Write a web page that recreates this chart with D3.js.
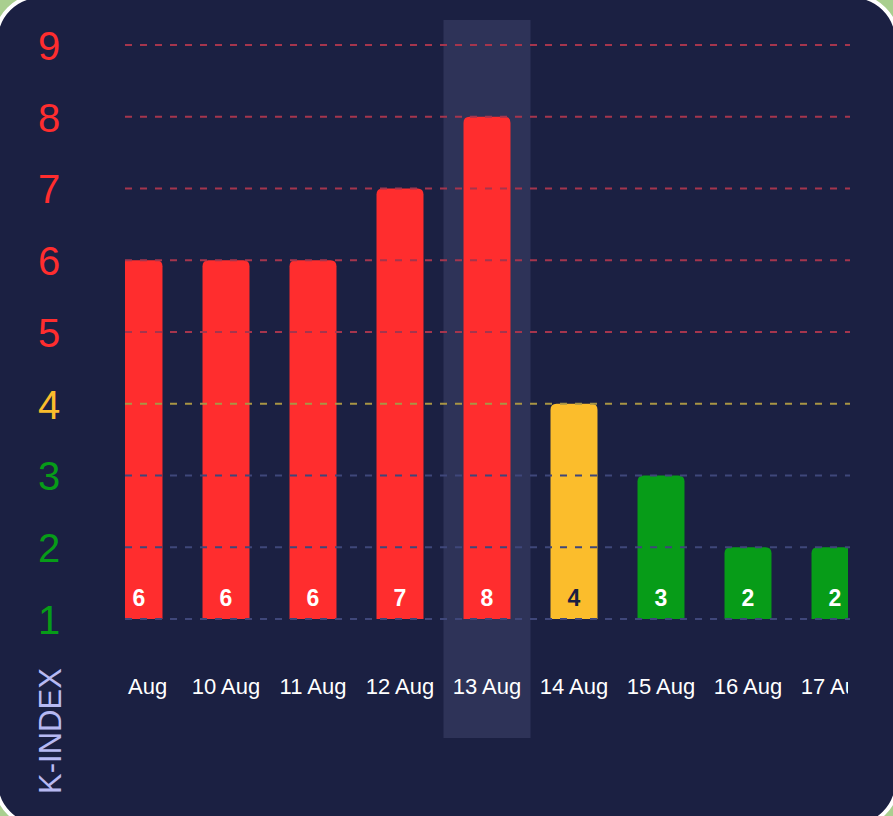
<html>
<head>
<style>
  body { margin: 0; background: #a9cf8f; overflow: hidden; }
  svg { display: block; }
</style>
</head>
<body>
<svg id="chart" width="893" height="816"></svg>
<script src="https://d3js.org/d3.v7.min.js"></script>
<script>
  // data
  let days = ["9 Aug", "10 Aug", "11 Aug", "12 Aug", "13 Aug", "14 Aug", "15 Aug", "16 Aug", "17 Aug"]
  let kValues = [6, 6, 6, 7, 8, 4, 3, 2, 2]
  let yTicks = [1, 2, 3, 4, 5, 6, 7, 8, 9]
  let selectedDay = "13 Aug"

  let svg = d3.select("#chart")

  // colour by storm level
  function levelColor(k) {
    if (k >= 5) return "#ff2d2e"
    if (k == 4) return "#fbbd2c"
    return "#079c18"
  }
  function gridColor(k) {
    if (k >= 5) return "#a5354d"
    if (k == 4) return "#a99544"
    return "#3f477a"
  }

  // card background with rounded corners
  svg.append("rect")
    .attr("x", -4).attr("y", -4)
    .attr("width", 901).attr("height", 830)
    .attr("rx", 44)
    .attr("fill", "#1b2042")
    .attr("stroke", "#ffffff")
    .attr("stroke-width", 4)

  let x = d3.scaleBand()
    .domain(days)
    .range([95.5, 878.5])
    .paddingInner(0.46)
    .paddingOuter(0.23)

  let y = d3.scaleLinear()
    .domain([1, 9])
    .range([619, 45])

  let step = x.step()

  // clip so the first and last days are cut like the scrolled view
  svg.append("clipPath").attr("id", "plotclip")
    .append("rect")
    .attr("x", 125).attr("y", 0)
    .attr("width", 723).attr("height", 816)

  let plot = svg.append("g").attr("clip-path", "url(#plotclip)")

  // highlight band for the selected day
  plot.append("rect")
    .attr("x", x(selectedDay) + x.bandwidth() / 2 - step / 2)
    .attr("y", 20)
    .attr("width", step)
    .attr("height", 718)
    .attr("fill", "#2e3358")

  // dashed gridlines
  svg.append("g").selectAll("line")
    .data(yTicks)
    .join("line")
    .attr("x1", 125)
    .attr("x2", 850)
    .attr("y1", d => y(d))
    .attr("y2", d => y(d))
    .attr("stroke", d => gridColor(d))
    .attr("stroke-width", 2)
    .attr("stroke-dasharray", "7,8")

  // bars with rounded tops
  function barPath(d, i) {
    let x0 = x(days[i]), w = x.bandwidth()
    let top = y(d), bottom = y(1), r = 6
    return `M${x0},${bottom} V${top + r} Q${x0},${top} ${x0 + r},${top} H${x0 + w - r} Q${x0 + w},${top} ${x0 + w},${top + r} V${bottom} Z`
  }

  plot.selectAll("path.bar")
    .data(kValues)
    .join("path")
    .attr("class", "bar")
    .attr("d", barPath)
    .attr("fill", d => levelColor(d))

  // value labels inside bars
  plot.selectAll("text.val")
    .data(kValues)
    .join("text")
    .attr("class", "val")
    .attr("x", (d, i) => x(days[i]) + x.bandwidth() / 2)
    .attr("y", 606)
    .attr("text-anchor", "middle")
    .attr("font-family", "Liberation Sans, Arial, sans-serif")
    .attr("font-weight", "bold")
    .attr("font-size", 23)
    .attr("fill", d => d == 4 ? "#1b2042" : "#ffffff")
    .text(d => d)

  // day labels
  let xAxis = d3.axisBottom(x).tickSize(0).tickPadding(0)
  let xg = plot.append("g")
    .attr("transform", "translate(0,678)")
    .call(xAxis)
  xg.select(".domain").remove()
  xg.selectAll("text")
    .attr("font-family", "Liberation Sans, Arial, sans-serif")
    .attr("font-size", 22)
    .attr("fill", "#ffffff")

  // K-index tick labels
  let yAxis = d3.axisLeft(y).tickValues(yTicks).tickSize(0).tickPadding(0)
  let yg = svg.append("g")
    .attr("transform", "translate(61,0)")
    .call(yAxis)
  yg.select(".domain").remove()
  yg.selectAll("text")
    .attr("font-family", "Liberation Sans, Arial, sans-serif")
    .attr("font-size", 40)
    .attr("text-anchor", "middle")
    .attr("dx", -12)
    .attr("dy", "0.36em")
    .attr("fill", d => levelColor(d))

  // axis title
  svg.append("text")
    .attr("transform", "translate(61,731) rotate(-90)")
    .attr("text-anchor", "middle")
    .attr("font-family", "Liberation Sans, Arial, sans-serif")
    .attr("font-size", 31)
    .attr("fill", "#b7b9f2")
    .text("K-INDEX")
</script>
</body>
</html>
